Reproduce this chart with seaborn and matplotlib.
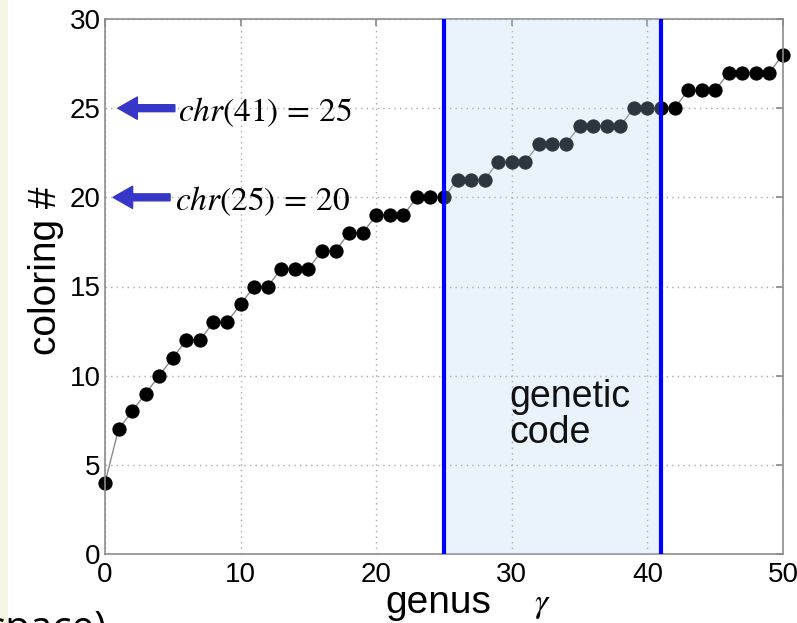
import matplotlib
matplotlib.use("Agg")
import matplotlib.pyplot as plt
from matplotlib.patches import Rectangle
import numpy as np
import pandas as pd
import seaborn as sns

# ---- data ----
genus = list(range(0, 51))
coloring = [4, 7, 8, 9, 10, 11, 12, 12, 13, 13,
            14, 15, 15, 16, 16, 16, 17, 17, 18, 18,
            19, 19, 19, 20, 20, 20, 21, 21, 21, 22,
            22, 22, 23, 23, 23, 24, 24, 24, 24, 25,
            25, 25, 25, 26, 26, 26, 27, 27, 27, 27,
            28]
xticks = [0, 10, 20, 30, 40, 50]
yticks = [0, 5, 10, 15, 20, 25, 30]
band = [25, 41]
notes = [(41, 25), (25, 20)]

df = pd.DataFrame({"genus": genus, "coloring": coloring})

sns.set_theme(style="white")
plt.rcParams["font.family"] = ["Liberation Sans", "DejaVu Sans"]
plt.rcParams["mathtext.fontset"] = "stix"
plt.rcParams["text.color"] = "black"
plt.rcParams["axes.labelcolor"] = "black"

W, H = 797, 623
fig = plt.figure(figsize=(W / 100, H / 100), dpi=100)
fig.patch.set_facecolor("white")
fig.patches.append(Rectangle((0, 0), 8 / W, 1, transform=fig.transFigure,
                             facecolor="#f5f7e4", edgecolor="none", zorder=-5))

L, R, B, T = 105, 783, 554, 19
ax = fig.add_axes([L / W, 1 - B / H, (R - L) / W, (B - T) / H])

sns.lineplot(data=df, x="genus", y="coloring", ax=ax, color="#8a8a8a", lw=1,
             marker="o", markersize=9.5, markerfacecolor="black",
             markeredgecolor="black", zorder=2, clip_on=False)

ax.set_xlim(0, 50)
ax.set_ylim(0, 30)
ax.set_xticks(xticks)
ax.set_yticks(yticks)
ax.grid(True, color="#a8a8a8", linestyle=(0, (1, 3)), lw=1)
for s in ax.spines.values():
    s.set_color("#8c8c8c")
    s.set_linewidth(1.2)
ax.tick_params(direction="in", length=5, color="#8c8c8c", top=True, right=True,
               labelsize=20, labelcolor="black")
ax.tick_params(axis="x", pad=6)
ax.tick_params(axis="y", pad=3)
ax.set_xlabel("")
ax.set_ylabel("coloring #", fontsize=28, color="black")
ax.yaxis.set_label_coords(-0.06, 0.53)

# shaded genetic-code band drawn on top of the points
ax.axvspan(band[0], band[1], color="#b0d0f2", alpha=0.26, zorder=3, lw=0)
for b in band:
    ax.axvline(b, color="#0000ff", lw=3, zorder=4)

ax.text(29.8, 7.8, "genetic\ncode", fontsize=27, va="center", ha="left",
        linespacing=1.0, zorder=5, color="#111111")

# arrows with annotations
arrow_x = [(0.95, 5.15), (0.6, 4.8)]
text_x = [5.35, 5.15]
for (g, c), (tip, tail), tx in zip(notes, arrow_x, text_x):
    ax.annotate("", xy=(tip, c), xytext=(tail, c),
                arrowprops=dict(arrowstyle="simple,head_length=14,head_width=16,tail_width=5",
                                mutation_scale=1, color="#3636c8", shrinkA=0, shrinkB=0),
                zorder=6)
    ax.text(tx, c, rf"$chr({g})\,=\,{c}$", fontsize=24, va="center_baseline",
            ha="left", zorder=6, color="black")

# x label pieces
fig.text(385 / W, 1 - 613 / H, "genus", fontsize=28, ha="left", va="baseline",
         color="black")
fig.text(542 / W, 1 - 612 / H, r"$\gamma$", fontsize=24, ha="center", va="baseline",
         color="black")

# clipped text at bottom-left (from the slide behind)
fig.text(107 / W, -0.028, "space)", fontsize=29, ha="right", va="baseline",
         family=["Open Sans", "DejaVu Sans"], color="black")

fig.savefig("out.png", dpi=100)
